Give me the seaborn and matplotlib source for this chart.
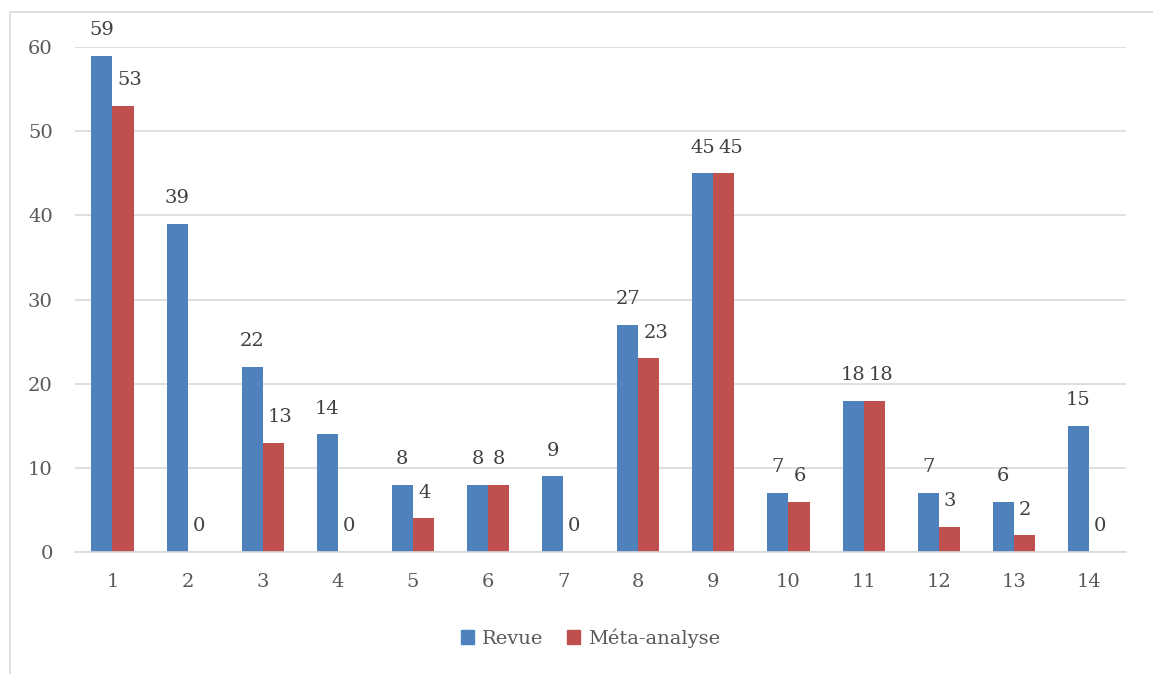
import pandas as pd
import seaborn as sns
import matplotlib.pyplot as plt
from matplotlib.patches import Rectangle

categories = [str(i) for i in range(1, 15)]
revue = [59, 39, 22, 14, 8, 8, 9, 27, 45, 7, 18, 7, 6, 15]
meta = [53, 0, 13, 0, 4, 8, 0, 23, 45, 6, 18, 3, 2, 0]
series_names = ["Revue", "Méta-analyse"]
colors = ["#4F81BD", "#C0504D"]

df = pd.DataFrame({
	"cat": categories * 2,
	"value": revue + meta,
	"serie": [series_names[0]] * len(revue) + [series_names[1]] * len(meta),
})

sns.set_style("white")
plt.rcParams['font.family'] = ['DejaVu Serif']

fig = plt.figure(figsize=(11.53, 6.74), dpi=100)
ax = fig.add_axes([0.065, 0.181, 0.912, 0.749])

sns.barplot(data=df, x="cat", y="value", hue="serie", palette=colors,
	width=0.56, gap=0, ax=ax, legend=False, saturation=1, linewidth=0)

ax.set_ylim(0, 60)
ax.set_yticks(range(0, 61, 10))
ax.set_xlim(-0.5, 13.5)

pad = 12
labels = [ax.bar_label(cont, padding=pad, fontsize=14, color="#404040") for cont in ax.containers]

# like Excel: labels of the second serie wider than the bar are pushed right of the first bar
fig.canvas.draw()
renderer = fig.canvas.get_renderer()
for t, bar in zip(labels[1], ax.containers[1]):
	w = t.get_window_extent(renderer).width
	bw = ax.transData.transform((bar.get_width(), 0))[0] - ax.transData.transform((0, 0))[0]
	shift = max(0.0, w / 2 - bw / 2 + 5)
	t.xyann = (shift * 72 / fig.dpi, pad)

ax.grid(axis="y", color="#D9D9D9", linewidth=1.2)
ax.set_axisbelow(True)
for s in ["top", "right", "left"]:
	ax.spines[s].set_visible(False)
ax.spines["bottom"].set_color("#D9D9D9")
ax.spines["bottom"].set_linewidth(1.2)
ax.tick_params(axis="both", length=0, labelsize=14, labelcolor="#595959")
ax.tick_params(axis="x", pad=15)
ax.tick_params(axis="y", pad=16)
ax.set_xlabel("")
ax.set_ylabel("")

handles = [Rectangle((0, 0), 1, 1, color=c) for c in colors]
fig.legend(handles, series_names, loc="center", bbox_to_anchor=(0.512, 0.053), ncol=2,
	frameon=False, fontsize=14, labelcolor="#595959", handlelength=0.7, handleheight=0.7,
	handletextpad=0.4, columnspacing=1.2)

# chart frame
fig.add_artist(Rectangle((10 / 1153, -0.1), 1.2, (674 - 12) / 674 + 0.1,
	transform=fig.transFigure, fill=False, edgecolor="#D9D9D9", linewidth=1.2))

plt.savefig("out.png", dpi=100)
